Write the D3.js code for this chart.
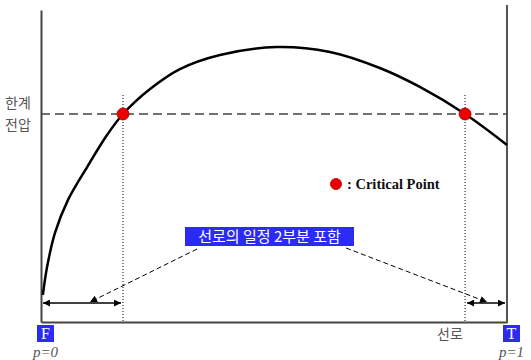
<!DOCTYPE html>
<html>
<head>
<meta charset="utf-8">
<script src="https://cdn.jsdelivr.net/npm/d3@7"></script>
<style>
  body { margin: 0; background: #fff; }
  svg { display: block; }
</style>
</head>
<body>
<div class="canvas"></div>
<script>
// position along the line (p) and voltage
const pos = [0.004, 0.013, 0.030, 0.058, 0.099, 0.142, 0.176, 0.234, 0.298, 0.384, 0.506, 0.620, 0.727, 0.813, 0.910, 1.0];
const volt = [0.13, 0.264, 0.428, 0.587, 0.745, 0.900, 1.0, 1.120, 1.216, 1.284, 1.322, 1.298, 1.221, 1.130, 1.0, 0.851];
const criticalP = [0.176, 0.910];
const limitV = 1.0;
const arrowV = 0.091;
const boxLabel = '선로의 일정 2부분 포함';
const legendLabel = ': Critical Point';

const svg = d3.select('.canvas')
  .append('svg')
  .attr('width', 531)
  .attr('height', 360);

const margin = { top: 10, right: 24, bottom: 38, left: 41 };
const graphWidth = 531 - margin.left - margin.right;
const graphHeight = 360 - margin.top - margin.bottom;

const x = d3.scaleLinear().domain([0, 1]).range([margin.left, margin.left + graphWidth]);
const y = d3.scaleLinear().domain([0, 1.5]).range([margin.top + graphHeight, margin.top]);

const defs = svg.append('defs');
const marker = (id, orient) => defs.append('marker')
  .attr('id', id)
  .attr('viewBox', '0 0 10 10')
  .attr('refX', 10).attr('refY', 5)
  .attr('markerWidth', 9).attr('markerHeight', 7)
  .attr('markerUnits', 'userSpaceOnUse')
  .attr('orient', orient)
  .append('path').attr('d', 'M0,0 L10,5 L0,10 Z').attr('fill', '#000');
marker('head', 'auto');
marker('tail', 'auto-start-reverse');

// axes (no ticks, just lines)
const yAxis = d3.axisLeft(y).tickValues([]).tickSizeOuter(0);
const xAxis = d3.axisBottom(x).tickValues([]).tickSizeOuter(0);
svg.append('g').attr('transform', `translate(${x(0)},0)`).call(yAxis)
  .select('.domain').attr('stroke', '#444').attr('stroke-width', 2);
svg.append('g').attr('transform', `translate(0,${y(0)})`).call(xAxis)
  .select('.domain').attr('stroke', '#444').attr('stroke-width', 2);
// right end line
svg.append('line')
  .attr('x1', x(1)).attr('x2', x(1))
  .attr('y1', y(0) + 1).attr('y2', y(1.5) - 5)
  .attr('stroke', '#555').attr('stroke-width', 2);

// limit voltage dashed line
svg.append('line')
  .attr('x1', x(0)).attr('x2', x(1))
  .attr('y1', y(limitV)).attr('y2', y(limitV))
  .attr('stroke', '#444').attr('stroke-width', 1.5)
  .attr('stroke-dasharray', '9,5');

// dotted verticals at critical points
svg.selectAll('.vdot')
  .data(criticalP)
  .enter().append('line')
  .attr('x1', d => x(d)).attr('x2', d => x(d))
  .attr('y1', y(limitV) - 19).attr('y2', y(0))
  .attr('stroke', '#000').attr('stroke-width', 1)
  .attr('stroke-dasharray', '1,2');

// PV curve
const line = d3.line()
  .x((d, i) => x(pos[i]))
  .y(d => y(d))
  .curve(d3.curveCatmullRom.alpha(0.5));
svg.append('path')
  .attr('d', line(volt))
  .attr('fill', 'none')
  .attr('stroke', '#000')
  .attr('stroke-width', 2.5);

// critical points
svg.selectAll('.crit')
  .data(criticalP)
  .enter().append('circle')
  .attr('cx', d => x(d)).attr('cy', y(limitV))
  .attr('r', 6)
  .attr('fill', '#ee0000')
  .attr('stroke', '#990000').attr('stroke-width', 0.8);

// double arrows for ranges
const ranges = [[0, criticalP[0]], [criticalP[1], 1]];
svg.selectAll('.range')
  .data(ranges)
  .enter().append('line')
  .attr('x1', d => x(d[0]) + 2).attr('x2', d => x(d[1]) - 2)
  .attr('y1', y(arrowV)).attr('y2', y(arrowV))
  .attr('stroke', '#000').attr('stroke-width', 1.5)
  .attr('marker-start', 'url(#tail)')
  .attr('marker-end', 'url(#head)');

// label box
const bx = 185, by = 227, bw = 169, bh = 19;
svg.append('rect')
  .attr('x', bx).attr('y', by).attr('width', bw).attr('height', bh)
  .attr('fill', '#2b2bf5');
svg.append('text')
  .attr('x', bx + bw / 2).attr('y', by + 15)
  .attr('text-anchor', 'middle')
  .attr('fill', '#fff')
  .attr('font-family', '"Noto Sans CJK KR", sans-serif')
  .attr('font-size', 15)
  .text(boxLabel);

// dashed pointers from label to the ranges
const pointers = [
  { from: [bx + 12, by + bh + 3], to: [90, y(arrowV) - 1] },
  { from: [bx + bw - 8, by + bh + 2], to: [487, y(arrowV) - 1] }
];
svg.selectAll('.ptr')
  .data(pointers)
  .enter().append('line')
  .attr('x1', d => d.from[0]).attr('y1', d => d.from[1])
  .attr('x2', d => d.to[0]).attr('y2', d => d.to[1])
  .attr('stroke', '#000').attr('stroke-width', 1)
  .attr('stroke-dasharray', '5,3')
  .attr('marker-end', 'url(#head)');

// legend
svg.append('circle')
  .attr('cx', 336).attr('cy', 184).attr('r', 5.5)
  .attr('fill', '#ee0000')
  .attr('stroke', '#990000').attr('stroke-width', 0.8);
svg.append('text')
  .attr('x', 347).attr('y', 189)
  .attr('font-family', '"Liberation Serif", serif')
  .attr('font-weight', 'bold')
  .attr('font-size', 14.5)
  .attr('fill', '#111')
  .text(legendLabel);

// y label
const yl = svg.append('text')
  .attr('font-family', '"Noto Sans CJK KR", sans-serif')
  .attr('font-size', 14)
  .attr('fill', '#555');
yl.append('tspan').attr('x', 5).attr('y', 108).text('한계');
yl.append('tspan').attr('x', 5).attr('y', 130).text('전압');

// end markers F / T
const ends = [{ p: 0, key: 'F', sub: 'p=0' }, { p: 1, key: 'T', sub: 'p=1' }];
const endG = svg.selectAll('.end').data(ends).enter().append('g');
endG.append('rect')
  .attr('x', d => x(d.p) - 4).attr('y', 325)
  .attr('width', 17).attr('height', 17)
  .attr('fill', '#2b2bf5');
endG.append('text')
  .attr('x', d => x(d.p) + 4.5).attr('y', 339)
  .attr('text-anchor', 'middle')
  .attr('fill', '#fff')
  .attr('font-family', '"Liberation Serif", serif')
  .attr('font-size', 16)
  .text(d => d.key);
endG.append('text')
  .attr('x', d => x(d.p) + 4.5).attr('y', 357)
  .attr('text-anchor', 'middle')
  .attr('fill', '#555')
  .attr('font-family', '"Liberation Serif", serif')
  .attr('font-style', 'italic')
  .attr('font-size', 15)
  .text(d => d.sub);

svg.append('text')
  .attr('x', 450).attr('y', 339)
  .attr('text-anchor', 'middle')
  .attr('fill', '#555')
  .attr('font-family', '"Noto Sans CJK KR", sans-serif')
  .attr('font-size', 14)
  .text('선로');
</script>
</body>
</html>
